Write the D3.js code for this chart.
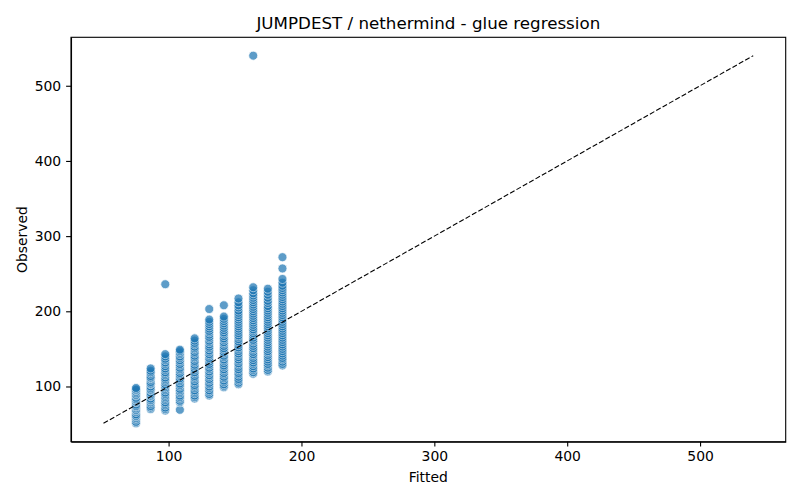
<!DOCTYPE html>
<html>
<head>
<meta charset="utf-8">
<script src="https://cdn.jsdelivr.net/npm/d3@7"></script>
<style>
    body { margin: 0; background: #fff; }
    text { font-family: "DejaVu Sans", sans-serif; fill: #000; }
    .tick text { font-size: 13.9px; }
    .label { font-size: 13.9px; }
    .title { font-size: 16.7px; }
    .domain, .tick line { stroke: #000; stroke-width: 1.1px; }
</style>
</head>
<body>
<div id="chart"></div>
<script>

// Fitted values (one column of points per level)
const fittedLevels = [75.5, 86.5, 97.5, 108.5, 119.6, 130.6, 141.6, 152.6, 163.7, 174.7, 185.7];

const obs075 = [51, 53, 56, 58, 60, 61, 63, 66, 68, 69, 71, 73, 74, 76, 79, 80, 82, 83, 85, 88, 89, 91, 93, 95, 96, 98];
const obs086 = [70, 72, 74, 77, 79, 81, 82, 84, 87, 88, 90, 92, 95, 96, 98, 100, 103, 104, 106, 109, 111, 112, 114, 117, 119, 121, 124];
const obs097 = [68, 70, 72, 75, 77, 79, 82, 84, 86, 88, 90, 92, 95, 97, 99, 101, 103, 106, 108, 110, 112, 115, 117, 119, 122, 124, 127, 130, 132, 135, 137, 140, 143, 236];
const obs108 = [69, 79, 81, 84, 86, 88, 91, 93, 95, 97, 100, 102, 104, 107, 109, 111, 114, 116, 118, 121, 123, 125, 128, 130, 133, 135, 138, 140, 143, 145, 147, 149];
const obs119 = [84, 86, 88, 91, 93, 95, 98, 100, 102, 105, 107, 110, 112, 114, 117, 119, 122, 124, 127, 129, 132, 134, 137, 139, 141, 144, 146, 149, 151, 153, 156, 158, 161, 164];
const obs130 = [88, 90, 93, 95, 98, 100, 103, 105, 108, 110, 113, 115, 118, 120, 123, 125, 128, 130, 133, 136, 138, 141, 143, 146, 148, 151, 153, 156, 159, 161, 164, 166, 169, 172, 174, 177, 180, 183, 186, 189, 203];
const obs141 = [99, 101, 103, 106, 108, 111, 113, 116, 118, 121, 123, 126, 128, 131, 134, 136, 139, 141, 144, 146, 149, 151, 154, 157, 159, 162, 164, 167, 170, 172, 175, 178, 181, 184, 187, 190, 193, 208];
const obs152 = [103, 105, 108, 110, 113, 116, 118, 121, 123, 126, 129, 131, 134, 136, 139, 142, 144, 147, 150, 152, 155, 158, 160, 163, 166, 168, 171, 174, 177, 180, 183, 186, 189, 192, 195, 198, 201, 205, 208, 212, 217];
const obs163 = [117, 119, 122, 124, 127, 130, 132, 135, 138, 141, 143, 146, 149, 151, 154, 157, 160, 162, 165, 168, 171, 174, 176, 179, 182, 185, 188, 191, 194, 197, 200, 203, 206, 209, 212, 215, 218, 221, 224, 228, 232, 540];
const obs174 = [120, 122, 125, 128, 130, 133, 136, 139, 142, 145, 147, 150, 153, 156, 159, 162, 165, 168, 171, 174, 177, 180, 183, 186, 189, 192, 195, 198, 201, 204, 207, 211, 214, 218, 222, 226, 230];
const obs185 = [128, 130, 133, 136, 138, 141, 144, 147, 150, 153, 156, 159, 162, 165, 168, 171, 174, 177, 180, 183, 186, 189, 192, 195, 198, 201, 204, 207, 210, 213, 216, 219, 222, 225, 228, 231, 234, 238, 243, 257, 272];

const observedByLevel = [obs075, obs086, obs097, obs108, obs119, obs130, obs141, obs152, obs163, obs174, obs185];

// Tick labels
const xTicks = [100, 200, 300, 400, 500];
const yTicks = [100, 200, 300, 400, 500];

// Flatten into points
var points = [];
fittedLevels.forEach(function(f, i) {
    observedByLevel[i].forEach(function(o) { points.push({ fitted: f, observed: o }); });
});

// Dimensions
const W = 800, H = 500;
const plotLeft = 71, plotRight = 785.7, plotTop = 37.3, plotBottom = 441.7;

const svg = d3.select('#chart').append('svg')
    .attr('width', W)
    .attr('height', H);

// Shared range for the identity line, padded 5% like matplotlib
const lo = d3.min(points, d => Math.min(d.fitted, d.observed));
const hi = d3.max(points, d => Math.max(d.fitted, d.observed));
const pad = (hi - lo) * 0.05;

const xScale = d3.scaleLinear().domain([lo - pad, hi + pad]).range([plotLeft, plotRight]);
const yScale = d3.scaleLinear().domain([lo - pad, hi + pad]).range([plotBottom, plotTop]);

// Points
svg.append('g')
    .selectAll('circle')
    .data(points)
    .enter()
    .append('circle')
    .attr('cx', d => xScale(d.fitted))
    .attr('cy', d => yScale(d.observed))
    .attr('r', 4.5)
    .attr('fill', '#1f77b4')
    .attr('stroke', '#fff')
    .attr('stroke-width', 0.75)
    .attr('opacity', 0.72);

// Identity line
svg.append('line')
    .attr('x1', xScale(lo))
    .attr('y1', yScale(lo))
    .attr('x2', xScale(hi))
    .attr('y2', yScale(hi))
    .attr('stroke', '#000')
    .attr('stroke-width', 1.1)
    .attr('stroke-dasharray', '5.1,2.2');

// Axes
svg.append('g')
    .attr('transform', 'translate(0,' + plotBottom + ')')
    .call(d3.axisBottom(xScale).tickValues(xTicks).tickFormat(d3.format('d'))
        .tickSizeInner(4.9).tickSizeOuter(0).tickPadding(4.9));

svg.append('g')
    .attr('transform', 'translate(' + plotLeft + ',0)')
    .call(d3.axisLeft(yScale).tickValues(yTicks).tickFormat(d3.format('d'))
        .tickSizeInner(4.9).tickSizeOuter(0).tickPadding(4.9));

// Frame (top and right spines)
svg.append('rect')
    .attr('x', plotLeft)
    .attr('y', plotTop)
    .attr('width', plotRight - plotLeft)
    .attr('height', plotBottom - plotTop)
    .attr('fill', 'none')
    .attr('stroke', '#000')
    .attr('stroke-width', 1.1);

svg.selectAll('.tick text').attr('fill', '#000');

// Titles
svg.append('text')
    .attr('class', 'title')
    .attr('x', (plotLeft + plotRight) / 2)
    .attr('y', 29)
    .attr('text-anchor', 'middle')
    .text('JUMPDEST / nethermind - glue regression');

svg.append('text')
    .attr('class', 'label')
    .attr('x', (plotLeft + plotRight) / 2)
    .attr('y', 482)
    .attr('text-anchor', 'middle')
    .text('Fitted');

svg.append('text')
    .attr('class', 'label')
    .attr('transform', 'rotate(-90)')
    .attr('x', -(plotTop + plotBottom) / 2)
    .attr('y', 27)
    .attr('text-anchor', 'middle')
    .text('Observed');

</script>
</body>
</html>
